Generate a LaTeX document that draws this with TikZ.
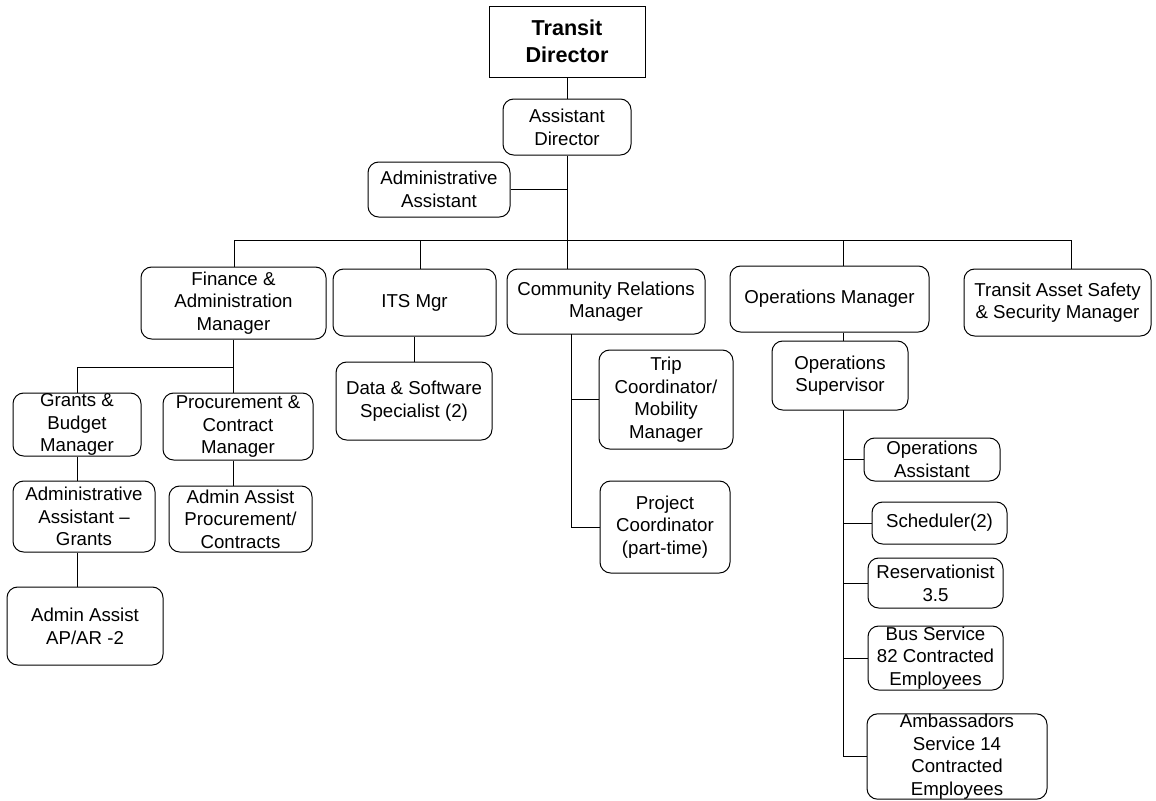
\documentclass[tikz,border=0pt]{standalone}
\usepackage{fontspec}
\setmainfont{Liberation Sans}
\begin{document}
\begin{tikzpicture}[x=0.75pt,y=-0.75pt,
  box/.style={draw=black,line width=0.75pt,rounded corners=8pt,inner sep=0pt,
    align=center,font=\fontsize{14}{17}\selectfont},
  topbox/.style={box,rounded corners=0pt,font=\fontsize{16.2}{20}\selectfont\bfseries},
  link/.style={draw=black,line width=0.75pt}]
\useasboundingbox (0,0) rectangle (1156,800);
% box from corner (x1,y1) to (x2,y2)
\newcommand{\orgbox}[7][box]{%
  \node[#1,minimum width={(#4-#2)*0.75pt},minimum height={(#5-#3)*0.75pt}]
    (#6) at ({(#2+#4)/2},{(#3+#5)/2}) {#7};}

% top levels
\orgbox[topbox]{489}{6}{645}{77}{td}{Transit\\Director}
\orgbox{503}{99}{631}{155}{ad}{Assistant\\Director}
\orgbox{368}{162}{510}{217}{aa}{Administrative\\Assistant}

% managers
\orgbox{141}{267}{326}{339}{fin}{Finance \&\\Administration\\Manager}
\orgbox{333}{269}{496}{336}{its}{ITS Mgr}
\orgbox{507}{269}{705}{334}{crm}{Community Relations\\Manager}
\orgbox{730}{266}{929}{332}{om}{Operations Manager}
\orgbox{964}{269}{1151}{336}{tas}{Transit Asset Safety\\\& Security Manager}

% finance branch
\orgbox{13}{393}{141}{456}{gbm}{Grants \&\\Budget\\Manager}
\orgbox{163}{393}{313}{460}{pcm}{Procurement \&\\Contract\\Manager}
\orgbox{13}{481}{155}{552}{aag}{Administrative\\Assistant --\\Grants}
\orgbox{169}{486}{312}{552}{aap}{Admin Assist\\Procurement/\\Contracts}
\orgbox{7}{587}{163}{665}{apar}{Admin Assist\\AP/AR -2}

% ITS branch
\orgbox{336}{362}{492}{440}{dss}{Data \& Software\\Specialist (2)}

% community relations branch
\orgbox{599}{350}{733}{449}{trip}{Trip\\Coordinator/\\Mobility\\Manager}
\orgbox{600}{481}{730}{573}{proj}{Project\\Coordinator\\(part-time)}

% operations branch
\orgbox{772}{341}{908}{410}{os}{Operations\\Supervisor}
\orgbox{864}{438}{1000}{481}{opa}{Operations\\Assistant}
\orgbox{872}{502}{1007}{544}{sch}{Scheduler(2)}
\orgbox{868}{558}{1003}{608}{res}{Reservationist\\3.5}
\orgbox{868}{626}{1003}{690}{bus}{Bus Service\\82 Contracted\\Employees}
\orgbox{867}{714}{1047}{799}{amb}{Ambassadors\\Service 14\\Contracted\\Employees}

% junction points
\coordinate (bar) at (567,240);
\coordinate (barL) at (234,240);
\coordinate (barR) at (1071,240);
\coordinate (dIts) at (420,240);
\coordinate (dOm) at (843,240);
\coordinate (fj) at (233,367);
\coordinate (fjL) at (77,367);
\coordinate (cr) at (571,334);
\coordinate (osx) at (843,410);

% connectors
\draw[link] (td.south) -- (ad.north);
\draw[link] (ad.south) -- (bar);
\draw[link] (aa.east) -- (aa.east -| bar);
\draw[link] (barL) -- (barR);
\draw[link] (barL) -- (barL |- fin.north);
\draw[link] (dIts) -- (dIts |- its.north);
\draw[link] (bar) -- (bar |- crm.north);
\draw[link] (dOm) -- (dOm |- om.north);
\draw[link] (barR) -- (barR |- tas.north);

\draw[link] (fj |- fin.south) -- (fj) -- (fjL) -- (fjL |- gbm.north);
\draw[link] (fj) -- (fj |- pcm.north);
\draw[link] (fjL |- gbm.south) -- (fjL |- aag.north);
\draw[link] (fjL |- aag.south) -- (fjL |- apar.north);
\draw[link] (fj |- pcm.south) -- (fj |- aap.north);

\draw[link] (its.south -| 414,0) -- (dss.north -| 414,0);

\draw[link] (cr) -- (cr |- proj.west) -- (proj.west);
\draw[link] (cr |- trip.west) -- (trip.west);

\draw[link] (osx |- om.south) -- (osx |- os.north);
\draw[link] (osx) -- (osx |- amb.west) -- (amb.west);
\draw[link] (osx |- opa.west) -- (opa.west);
\draw[link] (osx |- sch.west) -- (sch.west);
\draw[link] (osx |- res.west) -- (res.west);
\draw[link] (osx |- bus.west) -- (bus.west);
\end{tikzpicture}
\end{document}
